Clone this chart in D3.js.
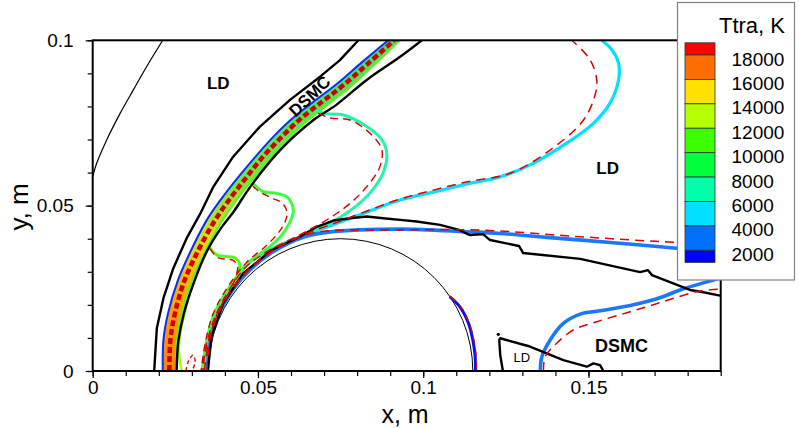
<!DOCTYPE html>
<html>
<head>
<meta charset="utf-8">
<script src="https://cdn.jsdelivr.net/npm/d3@7"></script>
<style>
  body { margin: 0; background: #fff; }
  svg { display: block; font-family: "Liberation Sans", Arial, sans-serif; }
</style>
</head>
<body>
<svg id="chart" width="799" height="428"></svg>
<script>
// axis ticks
const xTicks = [0, 0.05, 0.1, 0.15];
const xTickLabels = ['0', '0.05', '0.1', '0.15'];
const yTicks = [0, 0.05, 0.1];
const yTickLabels = ['0', '0.05', '0.1'];
const xMinor = d3.range(0, 0.1901, 0.01);
const yMinor = d3.range(0, 0.1001, 0.01);

// legend (Ttra, K)
const legendLevels = [18000, 16000, 14000, 12000, 10000, 8000, 6000, 4000, 2000];
const legendBounds = [19000, 18000, 16000, 14000, 12000, 10000, 8000, 6000, 4000, 2000, 1000];
const legendColors = ['#ff0000', '#ff6e00', '#ffe000', '#b4ff00', '#3cff00',
                      '#00ff3c', '#00ffaa', '#00e1ff', '#0070ff', '#0000ff'];

// body (sphere) : centre x, radius (m)
const bodyCenter = [0.075, 0];
const bodyRadius = 0.04;

// thin outer domain boundary
const outerArc = [[0,0.0588],[0.0012,0.0628],[0.0042,0.0698],[0.0083,0.0779],[0.0123,0.0850],[0.0163,0.0920],[0.0212,0.1000]];

// DSMC / LD interface lines around the shock
const shockOuter = [[0.0186,0],[0.0189,0.0048],[0.0194,0.0129],[0.0214,0.0220],[0.0244,0.0311],[0.0284,0.0401],[0.0325,0.0475],[0.0365,0.0557],[0.0425,0.0648],[0.0506,0.0739],[0.0597,0.0820],[0.0688,0.0890],[0.0748,0.0940],[0.0804,0.1000]];
const shockInner = [[0.0254,0],[0.0259,0.0089],[0.0276,0.0175],[0.0307,0.0270],[0.0345,0.0361],[0.0388,0.0432],[0.0428,0.0484],[0.0476,0.0556],[0.0567,0.0668],[0.0668,0.0759],[0.0736,0.0804],[0.0829,0.0880],[0.0930,0.0950],[0.0996,0.1000]];

// shock band contours
const bandBlue = [[0.0212,0],[0.0214,0.0094],[0.0228,0.0175],[0.0257,0.0272],[0.0301,0.0372],[0.0349,0.0463],[0.0400,0.0535],[0.0446,0.0593],[0.0494,0.0650],[0.0549,0.0711],[0.0609,0.0768],[0.0676,0.0820],[0.0742,0.0871],[0.0815,0.0934],[0.0894,0.1000]];
const bandRed = [[0.0232,0],[0.0235,0.0094],[0.0249,0.0175],[0.0276,0.0269],[0.0320,0.0366],[0.0369,0.0454],[0.0419,0.0526],[0.0464,0.0584],[0.0512,0.0644],[0.0567,0.0703],[0.0627,0.0761],[0.0694,0.0814],[0.0757,0.0863],[0.0830,0.0927],[0.0912,0.1000]];
const bandInner = [[0.0252,0],[0.0255,0.0094],[0.0269,0.0175],[0.0298,0.0266],[0.0340,0.0360],[0.0388,0.0448],[0.0437,0.0519],[0.0482,0.0576],[0.0531,0.0635],[0.0585,0.0696],[0.0646,0.0753],[0.0712,0.0806],[0.0776,0.0856],[0.0845,0.0919],[0.0929,0.1000]];
const ygBottom = [[0.0269,0],[0.0262,0.0043],[0.0262,0.0094],[0.0269,0.0134],[0.0278,0.0175],[0.0290,0.0220]];
const redSmallLoop = [[0.0282,0],[0.0291,0.0033],[0.0304,0.0048],[0.0310,0.0027],[0.0300,0]];

// shock-layer contours (solid: LD, dashed red: DSMC)
const wiggle12k = [[0.0352,0.0375],[0.0375,0.0351],[0.0403,0.0346],[0.0426,0.0344],[0.0444,0.0326],[0.0438,0.0285],[0.0426,0.0255],[0.0412,0.0230],[0.0385,0.0185],[0.0358,0.0109],[0.0340,0.0048],[0.0334,0]];
const red12k = [[0.0355,0.0370],[0.0378,0.0343],[0.0405,0.0338],[0.0424,0.0335],[0.0438,0.0318],[0.0432,0.0282],[0.0420,0.0253],[0.0407,0.0228],[0.0381,0.0183],[0.0355,0.0108],[0.0338,0.0048],[0.0332,0]];
const wiggle10k = [[0.0482,0.0569],[0.0496,0.0557],[0.0516,0.0542],[0.0557,0.0537],[0.0587,0.0527],[0.0602,0.0507],[0.0607,0.0481],[0.0594,0.0445],[0.0570,0.0408],[0.0531,0.0372],[0.0467,0.0324],[0.0406,0.0242],[0.0367,0.0172],[0.0343,0.0082],[0.0331,0]];
const red10k = [[0.0485,0.0559],[0.0506,0.0541],[0.0543,0.0523],[0.0573,0.0508],[0.0588,0.0481],[0.0582,0.0451],[0.0561,0.0417],[0.0524,0.0378],[0.0464,0.0327],[0.0403,0.0245],[0.0364,0.0172],[0.0340,0.0082],[0.0328,0]];
const aqua8k = [[0.0673,0.0792],[0.0698,0.0779],[0.0758,0.0774],[0.0829,0.0739],[0.0875,0.0699],[0.0890,0.0658],[0.0882,0.0608],[0.0854,0.0557],[0.0815,0.0514],[0.0764,0.0475],[0.0703,0.0439],[0.0627,0.0405],[0.0573,0.0384],[0.0518,0.0357],[0.0461,0.0315],[0.0409,0.0242],[0.0370,0.0166],[0.0346,0.0079],[0.0337,0]];
const red8k = [[0.0682,0.0780],[0.0718,0.0765],[0.0779,0.0759],[0.0849,0.0709],[0.0875,0.0668],[0.0869,0.0618],[0.0829,0.0557],[0.0779,0.0507],[0.0718,0.0463],[0.0642,0.0420],[0.0582,0.0390],[0.0521,0.0357],[0.0461,0.0312],[0.0409,0.0239],[0.0370,0.0163],[0.0343,0.0076],[0.0334,0]];
const cyan6k = [[0.0341,0],[0.0352,0.0079],[0.0376,0.0160],[0.0419,0.0239],[0.0476,0.0305],[0.0543,0.0360],[0.0627,0.0405],[0.0727,0.0442],[0.0830,0.0481],[0.0930,0.0517],[0.1030,0.0541],[0.1133,0.0566],[0.1233,0.0587],[0.1333,0.0628],[0.1434,0.0689],[0.1515,0.0749],[0.1565,0.0810],[0.1591,0.0880],[0.1591,0.0931],[0.1571,0.0971],[0.1540,0.1000]];
const red6k = [[0.0338,0],[0.0349,0.0079],[0.0373,0.0160],[0.0416,0.0239],[0.0473,0.0305],[0.0540,0.0360],[0.0627,0.0408],[0.0727,0.0445],[0.0830,0.0484],[0.0930,0.0520],[0.1030,0.0547],[0.1133,0.0572],[0.1263,0.0598],[0.1384,0.0668],[0.1485,0.0759],[0.1520,0.0835],[0.1525,0.0880],[0.1505,0.0941],[0.1450,0.1000]];
const blue4k = [[0.0347,0],[0.0359,0.0105],[0.0398,0.0204],[0.0460,0.0290],[0.0543,0.0359],[0.0641,0.0406],[0.0713,0.0420],[0.0930,0.0429],[0.1132,0.0421],[0.1232,0.0416],[0.1374,0.0404],[0.1575,0.0388],[0.1767,0.0371],[0.1900,0.0360]];
const red4k = [[0.0346,0],[0.0357,0.0106],[0.0396,0.0206],[0.0458,0.0293],[0.0541,0.0362],[0.0640,0.0410],[0.0713,0.0424],[0.0869,0.0426],[0.1172,0.0426],[0.1475,0.0406],[0.1767,0.0389],[0.1900,0.0387]];
const darkBlue2k = [[0.1080,0.0225],[0.1111,0.0194],[0.1137,0.0144],[0.1150,0.0094],[0.1157,0.0045],[0.1158,0]];
const red2k = [[0.1082,0.0225],[0.1115,0.0192],[0.1140,0.0142],[0.1153,0.0094],[0.1160,0.0045],[0.1161,0]];

// DSMC / LD interface near the body and in the wake
const bodyBlack = [[0.0348,0],[0.0360,0.0105],[0.0395,0.0205],[0.0455,0.0295],[0.0540,0.0365],[0.0627,0.0406],[0.0678,0.0436],[0.0728,0.0455],[0.0779,0.0462],[0.0829,0.0467],[0.0879,0.0462],[0.0930,0.0457],[0.0980,0.0452],[0.1051,0.0442],[0.1111,0.0426],[0.1121,0.0420],[0.1142,0.0411],[0.1181,0.0414],[0.1202,0.0396],[0.1290,0.0378],[0.1302,0.0357],[0.1475,0.0339],[0.1656,0.0299],[0.1680,0.0305],[0.1692,0.0290],[0.1807,0.0245],[0.1844,0.0239],[0.1898,0.0228]];
const wake4k = [[0.1354,0],[0.1359,0.0043],[0.1384,0.0094],[0.1424,0.0144],[0.1475,0.0172],[0.1535,0.0182],[0.1636,0.0200],[0.1718,0.0222],[0.1777,0.0245],[0.1878,0.0275],[0.1900,0.0281]];
const wakeRed = [[0.1364,0],[0.1369,0.0043],[0.1404,0.0084],[0.1454,0.0124],[0.1525,0.0149],[0.1626,0.0179],[0.1727,0.0210],[0.1828,0.0240],[0.1898,0.0248]];
const wakeBlack = [[0.1241,0],[0.1233,0.0048],[0.1230,0.0094],[0.1233,0.0099],[0.1323,0.0074],[0.1424,0.0033],[0.1495,0.0013],[0.1515,0.0023],[0.1535,0.0018],[0.1545,0]];
const wakeDot = [0.1227, 0.0111];

// region labels
const regionLabels = [
  { text: 'LD', at: [0.0380, 0.0870], size: 17, bold: true, angle: 0 },
  { text: 'DSMC', at: [0.0657, 0.0830], size: 17, bold: true, angle: -44 },
  { text: 'LD', at: [0.1558, 0.0612], size: 17, bold: true, angle: 0 },
  { text: 'DSMC', at: [0.1600, 0.0075], size: 18, bold: true, angle: 0 },
  { text: 'LD', at: [0.1298, 0.0042], size: 13, bold: false, angle: 0 }
];

const svg = d3.select('#chart');
svg.append('rect').attr('width', 799).attr('height', 428).attr('fill', '#fff');

const x = d3.scaleLinear().domain([0, 0.19]).range([92.7, 720.7]);
const y = d3.scaleLinear().domain([0, 0.1]).range([371, 40.3]);

const smooth = d3.line().x(d => x(d[0])).y(d => y(d[1])).curve(d3.curveCatmullRom.alpha(0.5));
const straight = d3.line().x(d => x(d[0])).y(d => y(d[1]));

const defs = svg.append('defs');
defs.append('clipPath').attr('id', 'plotClip')
  .append('rect').attr('x', x(0)).attr('y', y(0.1)).attr('width', x(0.19) - x(0)).attr('height', y(0) - y(0.1));

const grad = defs.append('linearGradient').attr('id', 'bandGrad')
  .attr('gradientUnits', 'userSpaceOnUse')
  .attr('x1', 0).attr('x2', 0).attr('y1', y(0)).attr('y2', y(0.1));
[[0, '#ff8400'], [0.22, '#ffa800'], [0.40, '#d8e020'], [0.58, '#70e840'], [1, '#40e070']].forEach(s =>
  grad.append('stop').attr('offset', s[0]).attr('stop-color', s[1]));

const plot = svg.append('g').attr('clip-path', 'url(#plotClip)');

// body circle and domain boundary
plot.append('ellipse')
  .attr('cx', x(bodyCenter[0])).attr('cy', y(bodyCenter[1]))
  .attr('rx', x(bodyRadius) - x(0)).attr('ry', y(0) - y(bodyRadius))
  .attr('fill', 'none').attr('stroke', '#000').attr('stroke-width', 1);
plot.append('path').attr('d', smooth(outerArc)).attr('fill', 'none').attr('stroke', '#000').attr('stroke-width', 1.2);

// shock band
const bandPath = smooth(bandBlue) + smooth(bandInner.slice().reverse()).replace('M', 'L') + 'Z';
plot.append('path').attr('d', bandPath).attr('fill', 'url(#bandGrad)');

function draw(data, color, width, dash, curve) {
  plot.append('path')
    .attr('d', (curve || smooth)(data))
    .attr('fill', 'none')
    .attr('stroke', color)
    .attr('stroke-width', width)
    .attr('stroke-linejoin', 'round')
    .attr('stroke-dasharray', dash || null);
}

draw(bandBlue, '#0a2cff', 2);
draw(bandInner, '#64f020', 2);
draw(ygBottom, '#a8ff00', 2.5);

// solid contours
draw(cyan6k, '#00e1ff', 3.2);
draw(aqua8k, '#20f5a8', 3);
draw(wiggle10k, '#3cff3c', 3);
draw(wiggle12k, '#50ff10', 3);
draw(blue4k, '#1a78ff', 3.6);
draw(darkBlue2k, '#0010ff', 3);
draw(wake4k, '#1a78ff', 3.6);

// DSMC/LD interface (black)
draw(shockOuter, '#000', 2.4, null, straight);
draw(shockInner, '#000', 2.4, null, smooth);
draw(bodyBlack, '#000', 2.4, null, straight);
draw(wakeBlack, '#000', 2.4, null, straight);
plot.append('circle').attr('cx', x(wakeDot[0])).attr('cy', y(wakeDot[1])).attr('r', 1.6).attr('fill', '#000');

// dashed DSMC contours
const red = '#dd0000';
draw(bandRed, '#d00000', 4.5, '6,3');
draw(redSmallLoop, red, 1.4, '4,3');
draw(red12k, red, 1.4, '7,5');
draw(red10k, red, 1.4, '7,5');
draw(red8k, red, 1.4, '8,5');
draw(red6k, red, 1.5, '9,6');
draw(red4k, red, 1.5, '9,6');
draw(red2k, red, 1.4, '7,5');
draw(wakeRed, red, 1.5, '9,6');

// region labels
regionLabels.forEach(l => {
  svg.append('text')
    .attr('transform', `translate(${x(l.at[0])},${y(l.at[1])}) rotate(${l.angle})`)
    .attr('text-anchor', 'middle')
    .attr('dominant-baseline', 'central')
    .attr('font-size', l.size)
    .attr('font-weight', l.bold ? 'bold' : 'normal')
    .text(l.text);
});

// axes
const xAxis = svg.append('g').attr('transform', `translate(0,${y(0)})`)
  .call(d3.axisBottom(x).tickValues(xTicks).tickSize(7).tickPadding(3).tickFormat((d, i) => xTickLabels[i]));
const xAxisMinor = svg.append('g').attr('transform', `translate(0,${y(0)})`)
  .call(d3.axisBottom(x).tickValues(xMinor).tickSize(5).tickFormat(''));
const yAxis = svg.append('g').attr('transform', `translate(${x(0)},0)`)
  .call(d3.axisLeft(y).tickValues(yTicks).tickSize(7).tickPadding(12).tickFormat((d, i) => yTickLabels[i]));
const yAxisMinor = svg.append('g').attr('transform', `translate(${x(0)},0)`)
  .call(d3.axisLeft(y).tickValues(yMinor).tickSize(5).tickFormat(''));
[xAxis, xAxisMinor, yAxis, yAxisMinor].forEach(g => {
  g.select('.domain').remove();
  g.selectAll('line').attr('stroke', '#000').attr('stroke-width', 1.2);
  g.selectAll('text').attr('font-size', 19).attr('fill', '#000')
    .attr('font-family', '"Liberation Sans", Arial, sans-serif');
});

// plot frame
svg.append('rect')
  .attr('x', x(0)).attr('y', y(0.1))
  .attr('width', x(0.19) - x(0)).attr('height', y(0) - y(0.1))
  .attr('fill', 'none').attr('stroke', '#000').attr('stroke-width', 2);

// axis titles
svg.append('text').attr('x', 405).attr('y', 423).attr('text-anchor', 'middle')
  .attr('font-size', 25).text('x, m');
svg.append('text').attr('transform', 'translate(28,207) rotate(-90)').attr('text-anchor', 'middle')
  .attr('font-size', 26).text('y, m');

// legend
const lg = d3.scaleLinear().domain([1000, 19000]).range([262.5, 42.8]);
const legend = svg.append('g');
legend.append('rect').attr('x', 677.5).attr('y', 2.5).attr('width', 117).attr('height', 277.5)
  .attr('fill', '#fff').attr('stroke', '#808080').attr('stroke-width', 1.2);
legend.append('text').attr('x', 785).attr('y', 33).attr('text-anchor', 'end')
  .attr('font-size', 22).text('Ttra, K');
legend.selectAll('rect.band').data(legendColors).join('rect')
  .attr('class', 'band')
  .attr('x', 685).attr('width', 30)
  .attr('y', (d, i) => lg(legendBounds[i]))
  .attr('height', (d, i) => lg(legendBounds[i + 1]) - lg(legendBounds[i]))
  .attr('fill', d => d)
  .attr('stroke', '#333').attr('stroke-width', 0.8);
legend.selectAll('text.lvl').data(legendLevels).join('text')
  .attr('class', 'lvl')
  .attr('x', 731.5).attr('y', d => lg(d) + 4)
  .attr('dominant-baseline', 'central')
  .attr('font-size', 19)
  .text(d => d);
</script>
</body>
</html>
